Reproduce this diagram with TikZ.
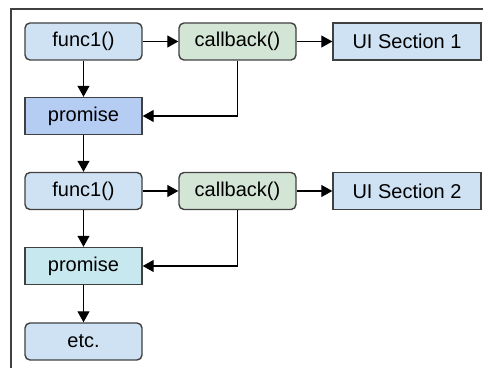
\documentclass[tikz,border=0pt]{standalone}
\usepackage{fontspec}
\setmainfont{Liberation Sans}
\usetikzlibrary{arrows.meta}
\definecolor{funcblue}{HTML}{CFE2F3}
\definecolor{cbgreen}{HTML}{D3E5D5}
\definecolor{promblue}{HTML}{B5CCF3}
\definecolor{promcyan}{HTML}{C6E8EE}
\definecolor{edgegray}{HTML}{404040}

\begin{document}
\begin{tikzpicture}[x=0.5pt, y=0.5pt, font=\fontsize{10}{12}\selectfont,
        box/.style={draw=edgegray, line width=0.7pt, minimum width=58.5pt, minimum height=18.5pt, inner sep=0pt},
        rbox/.style={box, rounded corners=2.5pt},
        arr/.style={-{Triangle[length=5.5pt,width=6pt]}, line width=0.6pt}]
        \useasboundingbox (0,0) rectangle (483,368);
        % frame
        \draw[edgegray, line width=0.7pt] (483,359) -- (11,359) -- (11,0);
        % first row
        \node[rbox, fill=funcblue] (f1) at (83.5,326.5) {func1()};
        \node[rbox, fill=cbgreen] (cb1) at (237.5,326.5) {callback()};
        \node[box, fill=funcblue, minimum width=74pt] (ui1) at (407,326.5) {UI Section 1};
        \node[box, fill=promblue] (p1) at (83.5,252) {promise};
        % second row
        \node[rbox, fill=funcblue] (f2) at (83.5,177) {func1()};
        \node[rbox, fill=cbgreen] (cb2) at (237.5,177) {callback()};
        \node[box, fill=funcblue, minimum width=74pt] (ui2) at (407,177) {UI Section 2};
        \node[box, fill=promcyan] (p2) at (83.5,102) {promise};
        \node[rbox, fill=funcblue] (etc) at (83.5,26.5) {etc.};
        % arrows
        \foreach \a/\b in {f1/cb1, cb1/ui1, f2/cb2, cb2/ui2}
            \draw[arr] (\a) -- (\b);
        \foreach \a/\b in {f1/p1, p1/f2, f2/p2, p2/etc}
            \draw[arr] (\a) -- (\b);
        \draw[arr] (cb1.south) |- (p1.east);
        \draw[arr] (cb2.south) |- (p2.east);
\end{tikzpicture}
\end{document}
